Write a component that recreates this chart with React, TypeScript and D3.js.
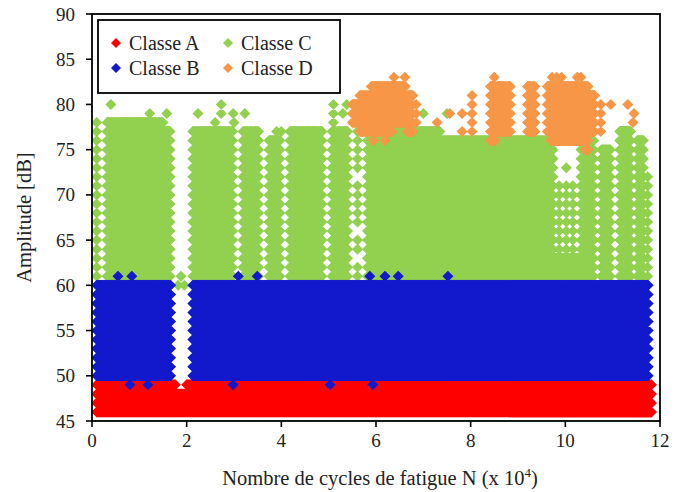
import React from "react";
import * as d3 from "d3";

// ---------- data (x in 10^4 cycles, amplitude in dB) ----------
const xTicks = [0, 2, 4, 6, 8, 10, 12];
const yTicks = [45, 50, 55, 60, 65, 70, 75, 80, 85, 90];
const classNames = ["Classe A", "Classe B", "Classe C", "Classe D"];
const classColors = ["#FF0000", "#1219CD", "#92D050", "#F79646"];

// dense bands of hits: [xStart, xEnd, dBmin, dBmax]
const bandsA = [
  [0.1, 1.76, 46, 49],
  [1.76, 2.0, 46, 48],
  [2.0, 11.82, 46, 49],
];
const bandsB = [
  [0.1, 1.66, 50, 60],
  [2.13, 11.75, 50, 60],
];
const bandsC = [
  [0.32, 1.5, 61, 78],
  [1.5, 1.65, 61, 77],
  [2.13, 2.97, 61, 77],
  [3.19, 3.52, 61, 77],
  [3.74, 3.97, 61, 76],
  [4.18, 4.86, 61, 77],
  [5.07, 5.4, 61, 77],
  [5.82, 7.35, 61, 77],
  [7.35, 9.74, 61, 76],
  [7.35, 10.3, 61, 63],
  [10.33, 10.6, 61, 76],
  [10.76, 10.95, 61, 75],
  [11.15, 11.38, 61, 77],
  [11.52, 11.65, 61, 76],
];
const bandsD = [
  [5.5, 5.62, 78, 80],
  [5.66, 5.86, 77, 81],
  [5.9, 6.2, 77, 82],
  [6.22, 6.34, 77, 82],
  [6.36, 6.62, 78, 82],
  [6.66, 6.78, 77, 81],
  [8.42, 8.52, 76, 82],
  [8.56, 8.84, 77, 82],
  [9.2, 9.36, 77, 82],
  [9.62, 9.68, 77, 82],
  [9.7, 10.2, 76, 82],
  [10.2, 10.4, 76, 82],
  [10.42, 10.48, 75, 82],
  [10.5, 10.62, 77, 81],
];
// single columns of hits: [x, dBmin, dBmax]
const columnsC = [
  [0.1, 61, 78],
  [5.1, 61, 80],
  [5.61, 60, 62],
  [5.61, 64, 65],
  [5.61, 67, 71],
  [5.61, 73, 79],
  [9.87, 61, 71],
  [10.02, 61, 71],
  [10.16, 61, 71],
  [11.74, 61, 72],
];
const columnsD = [
  [6.85, 78, 80],
  [8.03, 77, 81],
  [10.75, 77, 80],
];
// isolated hits: [x, dB]
const pointsB = [
  [0.55, 61], [0.84, 61], [3.09, 61], [3.49, 61], [5.87, 61], [6.19, 61], [6.47, 61], [7.52, 61],
  [0.8, 49], [1.18, 49], [2.98, 49], [5.03, 49], [5.93, 49],
];
const pointsC = [
  [0.4, 80], [1.22, 79], [1.58, 79], [1.4, 78],
  [1.82, 60], [1.95, 60], [1.88, 61],
  [2.24, 79], [2.73, 80], [2.73, 79], [2.6, 78], [2.98, 79], [3.0, 78], [3.23, 79],
  [3.9, 77], [4.0, 77], [5.38, 80], [5.3, 79], [7.0, 79], [7.5, 79], [10.02, 73],
];
const pointsD = [
  [5.95, 76], [6.19, 76], [6.38, 83], [6.61, 83], [8.5, 83], [8.8, 82],
  [9.72, 83], [9.82, 83], [9.92, 83], [10.25, 83], [10.33, 83],
  [7.29, 78], [7.56, 79], [7.82, 79], [7.82, 77], [10.96, 80], [11.32, 80], [11.45, 79], [11.43, 78],
];

// ---------- layout ----------
const W = 679;
const H = 492;
const plot = { left: 92, right: 660, top: 14, bottom: 421 };
const FONT = "Liberation Serif, DejaVu Serif, Times New Roman, serif";
const HW = 5.5; // diamond half width
const HH = 5.5; // diamond half height
const STEP = 0.02;

const x = d3.scaleLinear().domain([0, 12]).range([plot.left, plot.right]);
const y = d3.scaleLinear().domain([45, 90]).range([plot.bottom, plot.top]);

function diamond(px: number, py: number, hw = HW, hh = HH) {
  return `M${px.toFixed(1)},${(py - hh).toFixed(1)}L${(px + hw).toFixed(1)},${py.toFixed(1)}L${px.toFixed(1)},${(py + hh).toFixed(1)}L${(px - hw).toFixed(1)},${py.toFixed(1)}Z`;
}

function classPath(bands: number[][], columns: number[][], points: number[][]) {
  let d = "";
  for (const [x0, x1, lo, hi] of bands) {
    const n = Math.max(0, Math.round((x1 - x0) / STEP));
    for (let i = 0; i <= n; i++) {
      const xv = x0 + ((x1 - x0) * i) / Math.max(1, n);
      for (let a = lo; a <= hi; a++) d += diamond(x(xv), y(a));
    }
  }
  for (const [xv, lo, hi] of columns) {
    for (let a = lo; a <= hi; a++) d += diamond(x(xv), y(a));
  }
  for (const [xv, a] of points) d += diamond(x(xv), y(a));
  return d;
}

const textStyle = { fontFamily: FONT };

export default function App() {
  const pathA = classPath(bandsA, [], []);
  const pathB = classPath(bandsB, [], pointsB);
  const pathC = classPath(bandsC, columnsC, pointsC);
  const pathD = classPath(bandsD, columnsD, pointsD);

  const legendPos = [
    [116, 43],
    [116, 68],
    [228, 43],
    [228, 68],
  ];

  return (
    <svg
      width={W}
      height={H}
      style={{ position: "absolute", left: 0, top: 0, background: "#fff", fontFamily: FONT }}
    >
      <rect x={0} y={0} width={W} height={H} fill="#fff" />
      <defs>
        <clipPath id="plotClip">
          <rect x={plot.left} y={plot.top} width={plot.right - plot.left} height={plot.bottom - plot.top} />
        </clipPath>
      </defs>
      <g clipPath="url(#plotClip)">
        <path d={pathA} fill={classColors[0]} />
        <path d={pathC} fill={classColors[2]} />
        <path d={pathD} fill={classColors[3]} />
        <path d={pathB} fill={classColors[1]} />
      </g>

      {/* frame */}
      <rect
        x={plot.left}
        y={plot.top}
        width={plot.right - plot.left}
        height={plot.bottom - plot.top}
        fill="none"
        stroke="#000"
        strokeWidth={1.8}
      />

      {/* x axis ticks */}
      {xTicks.map((t) => (
        <g key={"x" + t}>
          <line x1={x(t)} x2={x(t)} y1={plot.bottom} y2={plot.bottom + 6} stroke="#000" strokeWidth={1.6} />
          <text x={x(t)} y={447} textAnchor="middle" fontSize={19} fill="#222" style={textStyle}>
            {t}
          </text>
        </g>
      ))}
      {/* y axis ticks */}
      {yTicks.map((t) => (
        <g key={"y" + t}>
          <line x1={plot.left - 6} x2={plot.left} y1={y(t)} y2={y(t)} stroke="#000" strokeWidth={1.6} />
          <text x={75} y={y(t) + 6.5} textAnchor="end" fontSize={19} fill="#222" style={textStyle}>
            {t}
          </text>
        </g>
      ))}

      {/* axis titles */}
      <text x={380} y={485} textAnchor="middle" fontSize={20.5} fill="#222" style={textStyle}>
        Nombre de cycles de fatigue N (x 10
        <tspan dy={-8} fontSize={13}>
          4
        </tspan>
        <tspan dy={8}>)</tspan>
      </text>
      <text
        transform={`translate(31, ${(plot.top + plot.bottom) / 2}) rotate(-90)`}
        textAnchor="middle"
        fontSize={20.5}
        fill="#222"
        style={textStyle}
      >
        Amplitude [dB]
      </text>

      {/* legend */}
      <rect x={98} y={20} width={242} height={73} fill="#fff" stroke="#000" strokeWidth={1.8} />
      {classNames.map((name, i) => (
        <g key={name}>
          <path d={diamond(legendPos[i][0], legendPos[i][1], 5, 5)} fill={classColors[i]} />
          <text x={legendPos[i][0] + 13} y={legendPos[i][1] + 7} fontSize={20} fill="#222" style={textStyle}>
            {name}
          </text>
        </g>
      ))}
    </svg>
  );
}
